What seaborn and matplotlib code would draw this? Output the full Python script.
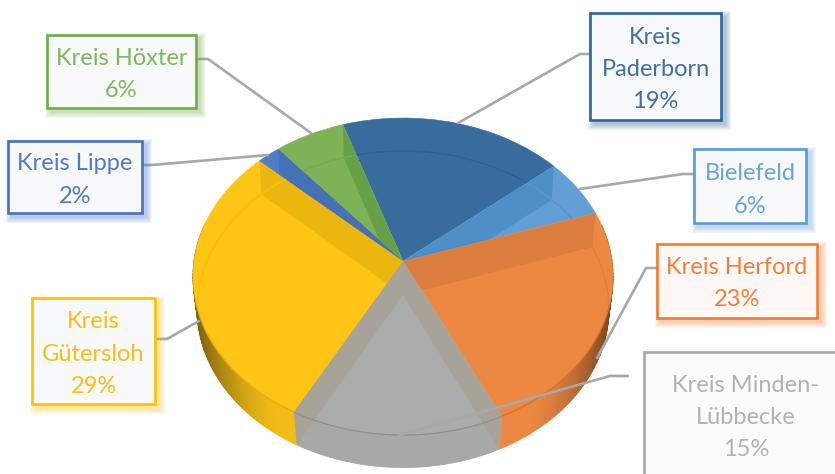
import numpy as np
import matplotlib
matplotlib.use("Agg")
import matplotlib.pyplot as plt
import matplotlib.transforms as mtransforms
from matplotlib.patches import Rectangle
import seaborn as sns

# Shares per district, clockwise from the first slice
districts = ["Kreis Paderborn", "Bielefeld", "Kreis Herford", "Kreis Minden-Lübbecke",
             "Kreis Gütersloh", "Kreis Lippe", "Kreis Höxter"]
shares = [19, 6, 23, 15, 29, 2, 6]
box_lines = [["Kreis", "Paderborn"], ["Bielefeld"], ["Kreis Herford"], ["Kreis Minden-", "Lübbecke"],
             ["Kreis", "Gütersloh"], ["Kreis Lippe"], ["Kreis Höxter"]]

top_colors = ["#376C9C", "#629FD6", "#EC8842", "#ABABAB", "#FEC514", "#4E7CC6", "#7DB356"]
wall_colors = ["#376C9C", "#4F8FC8", "#DC7E3D", "#A7A398", "#EBB70F", "#4472B4", "#68A047"]
arc_colors = ["#2F6090", "#5A95CB", "#E07F3C", None, "#F6BE12", None, "#74AA4E"]
edge_colors = ["#2F6499", "#5B9BD5", "#ED7D31", "#A9A9A9", "#FFC000", "#4472C4", "#70AD47"]
text_colors = ["#3F70A0", "#68A5DC", "#EF8038", "#B2B2B2", "#FBBE14", "#4F7AC7", "#7DB95A"]

# Label boxes: left, top, right, bottom in pixels
boxes = [(590, 13, 721, 120), (694, 149, 806, 223), (657, 244, 817, 318), (644, 352, 850, 490),
         (32, 298, 155, 404), (8, 141, 142, 213), (47, 35, 196, 108)]
# Leader lines in pixels, box end first
leaders = [[(590, 54), (580, 54), (458, 123)],
           [(694, 174), (683, 174), (580, 189)],
           [(657, 268), (646, 268), (597, 358)],
           [(628, 376), (610, 376), (400, 435)],
           [(155, 339), (167, 339), (199, 321)],
           [(142, 165), (152, 165), (268, 155)],
           [(196, 59), (208, 59), (311, 133)]]

WIDTH, HEIGHT = 835, 474
START_DEG = -18.3


class DiscProjection(mtransforms.Transform):
    """Perspective view of the unit disc, mapped to pixel positions."""
    input_dims = 2
    output_dims = 2
    is_separable = False

    def __init__(self, cx, cy, a, b, k):
        super().__init__()
        self.cx, self.cy, self.a, self.b, self.k = cx, cy, a, b, k

    def transform_non_affine(self, values):
        values = np.asarray(values, dtype=float)
        u, v = values[:, 0], values[:, 1]
        w = 1 + self.k * v
        return np.column_stack((self.cx + self.a * u / w, self.cy - self.b * v / w))


top_face = DiscProjection(403, 261, 209, 157, 0.098)
bottom_face = DiscProjection(403, 295, 205, 157, 0.09)


def disc_xy(theta_deg):
    theta = np.radians(theta_deg)
    return np.column_stack((np.sin(theta), np.cos(theta)))


sns.set_theme(style="white")
plt.rcParams["font.family"] = ["Lato", "DejaVu Sans"]

palette = sns.color_palette(top_colors)
fig = plt.figure(figsize=(WIDTH / 100, HEIGHT / 100), dpi=100)
ax = fig.add_axes([0, 0, 1, 1])

bounds = START_DEG + 3.6 * np.concatenate(([0], np.cumsum(shares)))

# Top faces of the slices
wedges, _ = ax.pie(shares, colors=palette, startangle=90 - START_DEG, counterclock=False,
                   wedgeprops={"linewidth": 0.4, "zorder": 3})
for wedge, color in zip(wedges, top_colors):
    wedge.set_edgecolor(color)
    wedge.set_transform(top_face + ax.transData)

ax.set_aspect("auto")
ax.set_xlim(0, WIDTH)
ax.set_ylim(HEIGHT, 0)
ax.axis("off")


def shaded(color, x):
    # The outer wall darkens toward both ends of the visible front
    t = abs(x - 403) / 210
    s = 1 - 0.5 * np.clip((t - 0.6) / 0.4, 0, 1) ** 1.4
    return tuple(np.array(matplotlib.colors.to_rgb(color)) * s)


# Outer wall, built from thin strips so the shading runs along the rim
wall_base = {2: "#EC8842", 3: "#A8A8A8", 4: "#F2BC16"}
for i, base in wall_base.items():
    thetas = np.linspace(bounds[i], bounds[i + 1], int(shares[i] * 3) + 2)
    thetas = thetas[np.cos(np.radians(thetas)) < 0.25]
    upper = top_face.transform(disc_xy(thetas))
    lower = bottom_face.transform(disc_xy(thetas))
    for j in range(len(thetas) - 1):
        quad = np.vstack((upper[j:j + 2], lower[j:j + 2][::-1]))
        col = shaded(base, quad[:, 0].mean())
        ax.fill(quad[:, 0], quad[:, 1], color=col, lw=0.6, zorder=2)


def wall_quad(theta):
    rim = disc_xy(np.array([theta]))
    centre = np.zeros((1, 2))
    pts = np.vstack((top_face.transform(centre), top_face.transform(rim),
                     bottom_face.transform(rim), bottom_face.transform(centre)))
    return pts


# Inner walls seen through the translucent top: (slice, boundary index, clipped to slice)
inner_walls = [(1, 1, True), (2, 2, True), (4, 5, True), (5, 6, True), (6, 7, True),
               (3, 3, False), (3, 4, False)]
for i, b, clip in inner_walls:
    q = wall_quad(bounds[b])
    poly = ax.fill(q[:, 0], q[:, 1], color=wall_colors[i], lw=0, zorder=4)[0]
    if clip:
        poly.set_clip_path(wedges[i])

# Floor outline seen through the slices
floor = bottom_face.transform(disc_xy(np.linspace(0, 360, 361)))
for i, color in enumerate(arc_colors):
    if color is None:
        continue
    line, = ax.plot(floor[:, 0], floor[:, 1], color=color, lw=1.0, zorder=5)
    line.set_clip_path(wedges[i])

# Front rim of the top face
for i, color in {2: "#D0702F", 3: "#8E8E8E", 4: "#E0AC10"}.items():
    rim = top_face.transform(disc_xy(np.linspace(bounds[i], bounds[i + 1], 60)))
    rim = rim[rim[:, 1] > 300]
    ax.plot(rim[:, 0], rim[:, 1], color=color, lw=0.9, zorder=6)

# Leader lines
for pts in leaders:
    xs, ys = zip(*pts)
    ax.plot(xs, ys, color="#A8A8A8", lw=1.9, solid_joinstyle="round", zorder=7)

# Label boxes with soft shadows and centred text
for i, (x0, y0, x1, y1) in enumerate(boxes):
    if i != 3:
        for g in range(6, 0, -1):
            ax.add_patch(Rectangle((x0 + 4 - g, y0 + 4 - g), x1 - x0 + 2 * g, y1 - y0 + 2 * g,
                                   facecolor=edge_colors[i], edgecolor="none", alpha=0.07, zorder=8))
    fill = "#FBFBFB" if i == 3 else ("#FEF9F6" if i == 2 else "#F7F9FB")
    ax.add_patch(Rectangle((x0, y0), x1 - x0, y1 - y0, facecolor=fill, edgecolor=edge_colors[i],
                           lw=1.9, zorder=9, clip_on=True))
    lines = box_lines[i] + [f"{shares[i]}%"]
    first_y = {0: 37, 1: 174, 2: 267, 3: 385, 4: 322, 5: 164, 6: 58}[i]
    centre_x = {3: 746}.get(i, (x0 + x1) / 2)
    for n, txt in enumerate(lines):
        ax.text(centre_x, first_y + n * 32.4, txt, color=text_colors[i], fontsize=17,
                ha="center", va="center", zorder=10)

fig.savefig("out.png", dpi=100)
